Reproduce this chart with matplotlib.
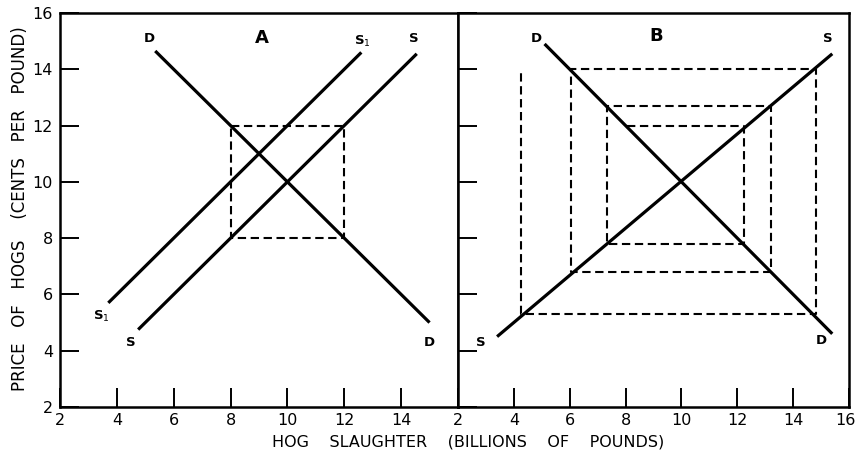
import matplotlib
matplotlib.use('Agg')
import matplotlib.pyplot as plt
import matplotlib.transforms as mtransforms

# panel A: shift of supply
a_demand_x = [5.35, 15.0]
a_demand_y = [14.65, 5.0]
a_supply_x = [4.75, 14.55]
a_supply_y = [4.75, 14.55]
a_supply1_x = [3.7, 12.6]
a_supply1_y = [5.7, 14.6]
a_box_x = [8, 12, 12, 8, 8]
a_box_y = [12, 12, 8, 8, 12]

# panel B: cobweb
b_demand_x = [5.1, 15.4]
b_demand_y = [14.9, 4.6]
b_supply_x = [3.4, 15.4]
b_supply_y = [4.5, 14.55]
b_web_x = [8.05, 12.25, 12.25, 7.35, 7.35, 13.2, 13.2, 6.05, 6.05, 14.8, 14.8, 4.25, 4.25]
b_web_y = [12.0, 12.0, 7.8, 7.8, 12.7, 12.7, 6.8, 6.8, 14.0, 14.0, 5.3, 5.3, 14.0]

xticks_a = [2, 4, 6, 8, 10, 12, 14]
xticks_b = [2, 4, 6, 8, 10, 12, 14, 16]
yticks = [2, 4, 6, 8, 10, 12, 14, 16]

plt.rcParams['font.family'] = ['DejaVu Sans']

fig = plt.figure(figsize=(8.57, 4.51), dpi=100)
ax1 = fig.add_axes([0.070, 0.0976, 0.4644, 0.8736])
ax2 = fig.add_axes([0.5344, 0.0976, 0.4563, 0.8736])

solid = dict(color='black', linewidth=2.3, solid_capstyle='butt')
dashed = dict(color='black', linewidth=1.5, linestyle=(0, (4, 2.2)))

ax1.plot(a_demand_x, a_demand_y, **solid)
ax1.plot(a_supply_x, a_supply_y, **solid)
ax1.plot(a_supply1_x, a_supply1_y, **solid)
ax1.plot(a_box_x, a_box_y, **dashed)

ax2.plot(b_demand_x, b_demand_y, **solid)
ax2.plot(b_supply_x, b_supply_y, **solid)
ax2.plot(b_web_x, b_web_y, **dashed)

lab = dict(ha='center', va='center', fontsize=9.5, fontweight='bold')
ax1.text(5.15, 15.1, 'D', **lab)
ax1.text(9.1, 15.1, 'A', ha='center', va='center', fontsize=13, fontweight='bold')
ax1.text(12.65, 15.0, r'S$_1$', **lab)
ax1.text(14.45, 15.1, 'S', **lab)
ax1.text(3.45, 5.2, r'S$_1$', **lab)
ax1.text(4.5, 4.3, 'S', **lab)
ax1.text(15.0, 4.3, 'D', **lab)

ax2.text(4.8, 15.1, 'D', **lab)
ax2.text(9.1, 15.2, 'B', ha='center', va='center', fontsize=13, fontweight='bold')
ax2.text(15.25, 15.1, 'S', **lab)
ax2.text(2.8, 4.3, 'S', **lab)
ax2.text(15.0, 4.35, 'D', **lab)

for ax, xt in ((ax1, xticks_a), (ax2, xticks_b)):
    ax.set_xlim(2, 16)
    ax.set_ylim(2, 16)
    ax.set_xticks(xt)
    ax.set_yticks(yticks)
    ax.tick_params(direction='in', length=13.5, width=1.4, labelsize=11.5)
    ax.tick_params(axis='x', pad=4)
    ax.tick_params(axis='y', pad=5)
    for sp in ax.spines.values():
        sp.set_linewidth(1.8)

ax2.tick_params(axis='y', labelleft=False)

# keep the last "16" inside the figure
shift = mtransforms.ScaledTranslation(-4 / 100, 0, fig.dpi_scale_trans)
last = ax2.get_xticklabels()[-1]
last.set_transform(last.get_transform() + shift)

fig.text(0.0233, 0.5366, 'PRICE   OF   HOGS    (CENTS   PER   POUND)',
         rotation=90, ha='center', va='center', fontsize=12)
fig.text(0.546, 0.02, 'HOG    SLAUGHTER    (BILLIONS    OF    POUNDS)',
         ha='center', va='center', fontsize=11.5)

plt.savefig('out.png', dpi=100)
